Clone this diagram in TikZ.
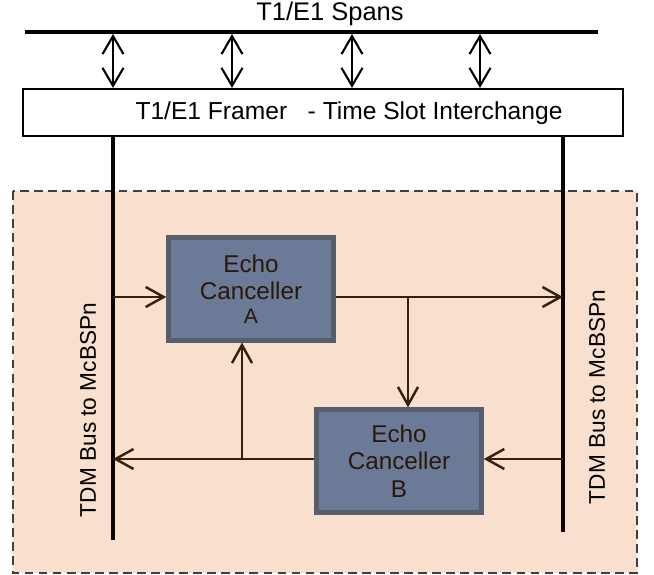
\documentclass[tikz,border=0pt]{standalone}
\usepackage{fontspec}
\setmainfont{Liberation Sans}
\usetikzlibrary{arrows.meta}
\definecolor{peach}{HTML}{F9DFCD}
\definecolor{ecfill}{HTML}{6B7A96}
\definecolor{ecline}{HTML}{565D6C}
\definecolor{wire}{HTML}{3A200C}
\definecolor{ectext}{HTML}{2A180B}
\begin{document}
\begin{tikzpicture}[x=0.02cm,y=-0.02cm,
  ecbox/.style={draw=ecline, line width=2.6pt, fill=ecfill, text=ectext,
    minimum width=3.3cm, minimum height=2.05cm, align=center,
    font=\fontsize{13.8}{15.5}\selectfont},
  wirearrow/.style={draw=wire, line width=1.4pt, -{Straight Barb[length=0.36cm,width=0.4cm,line width=1.4pt]}},
  spanarrow/.style={draw, line width=1.2pt, {Straight Barb[length=0.36cm,width=0.42cm]}-{Straight Barb[length=0.36cm,width=0.42cm]}},
  bus/.style={draw=black!85!wire, line width=1.8pt},
  buslabel/.style={rotate=90, font=\fontsize{12.9}{14}\selectfont}]
\useasboundingbox (0,0) rectangle (654,575);

\path[draw=black!75, dash pattern=on 5pt off 3pt, fill=peach, line width=0.7pt] (13,191) rectangle (637,573);

\node (spans) at (330,14) {\fontsize{14.5}{16}\selectfont T1/E1 Spans};
\coordinate (spanL) at (25,32);
\coordinate (spanR) at (598,32);
\path[draw,line width=2.3pt] (spanL) -- (spanR);

\node[draw, line width=1.2pt, fill=white, minimum width=12cm, minimum height=0.94cm] (framer) at (323,112.5) {};
\node (framertext) at (349,113) {\fontsize{14}{16}\selectfont T1/E1 Framer\ \ \ - Time Slot Interchange};

\foreach \x [count=\i] in {113,232,352,480} {
  \coordinate (up\i) at (\x,34);
  \path[spanarrow] (up\i) -- (framer.north -| up\i);
}

\coordinate (busLtop) at (113,136);
\coordinate (busLbot) at (113,540);
\coordinate (busRtop) at (563,136);
\coordinate (busRbot) at (563,532);
\path[bus] (busLtop) -- (busLbot);
\path[bus] (busRtop) -- (busRbot);

\node[buslabel] (tdmL) at (88,410) {TDM Bus to McBSPn};
\node[buslabel] (tdmR) at (597,397) {TDM Bus to McBSPn};

\node[ecbox] (eca) at (251,289) {Echo\\Canceller\\[-2pt]{\fontsize{12}{13}\selectfont A}};
\node[ecbox] (ecb) at (399,461) {Echo\\Canceller\\B};

\coordinate (inA) at (113,297);
\coordinate (split) at (408,297);
\coordinate (outB) at (242,459);
\coordinate (inB) at (563,459);

\path[wirearrow] (inA) -- (eca.west |- inA);
\path[wirearrow] (eca.east |- split) -- (busRtop |- split);
\path[wirearrow] (split) -- (ecb.north -| split);
\path[wirearrow] (ecb.west |- outB) -- (busLtop |- outB);
\path[wirearrow] (outB) -- (eca.south -| outB);
\path[wirearrow] (inB) -- (ecb.east |- inB);
\end{tikzpicture}
\end{document}
